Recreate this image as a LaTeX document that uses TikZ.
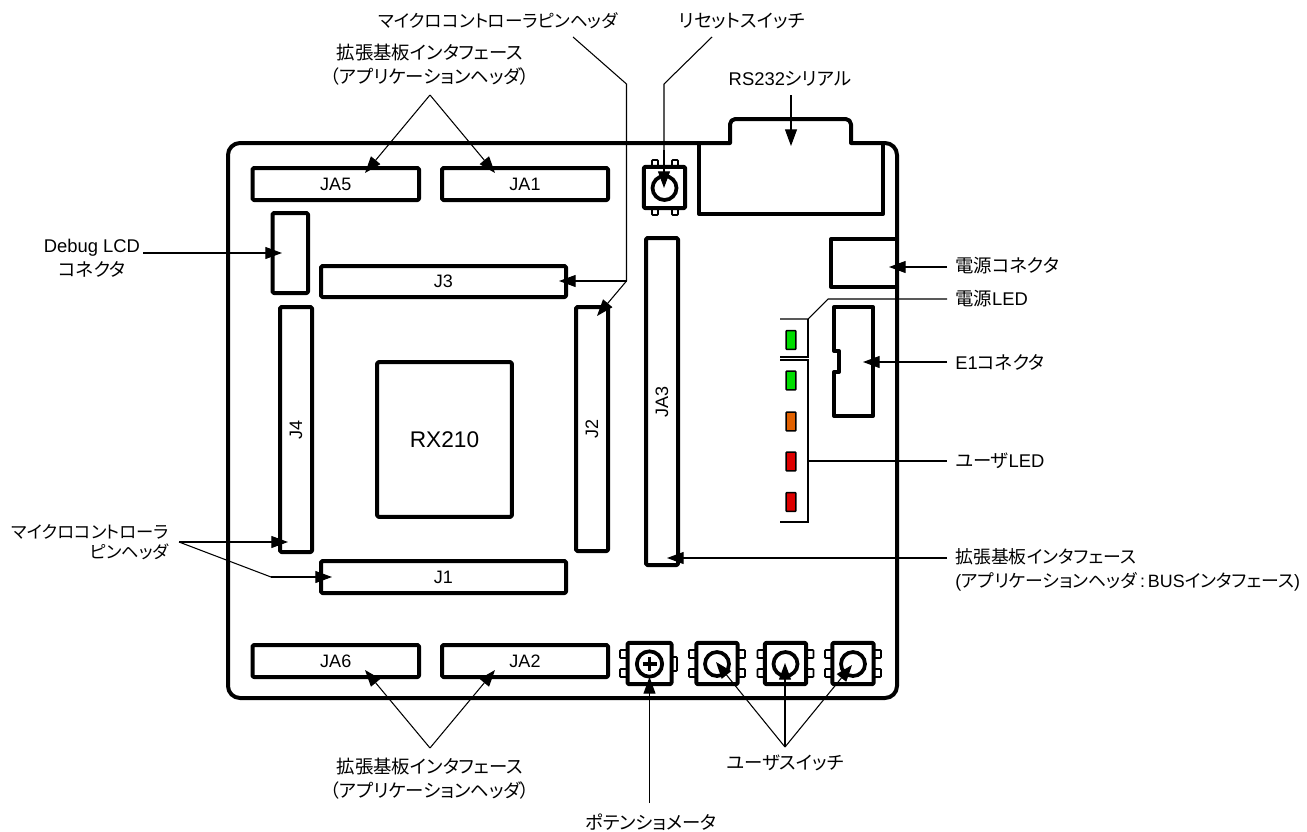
\documentclass[tikz,border=0pt]{standalone}
\usepackage{fontspec}
\setmainfont{Liberation Sans}
\newfontfamily\cjk[RawFeature=+palt]{Noto Sans CJK JP}
\newcommand\jp[1]{{\cjk #1}}
\usetikzlibrary{arrows.meta}
\definecolor{ledgreen}{RGB}{0,221,0}
\definecolor{ledorange}{RGB}{224,96,0}
\definecolor{ledred}{RGB}{221,0,0}
\tikzset{
  thickline/.style={line width=3pt,line join=round,line cap=round},
  hdr/.style={draw,thickline,rounded corners=1pt,inner sep=0pt,font=\fontsize{13.5}{15}\selectfont},
  lbl/.style={inner sep=0pt,align=center,font=\fontsize{13.8}{18}\selectfont},
  lblw/.style={lbl,anchor=west,align=left},
  lead/.style={line width=0.8pt,line join=miter},
  arr/.style={lead,-{Triangle[length=12.5pt,width=9pt]}},
  tabbox/.style={draw,fill=white,line width=1.2pt,rounded corners=0.5pt},
  swbody/.style={draw,thickline,rounded corners=1pt,inner sep=0pt,fill=white,minimum width=31pt,minimum height=31pt},
  led/.style={draw,line width=1.2pt,rounded corners=0.5pt,inner sep=0pt,minimum width=7.4pt,minimum height=14pt},
}
% \hdrbox{name}{x1}{y1}{x2}{y2}{rotation}{text}
\newcommand\hdrbox[7]{%
  \pgfmathsetmacro\bw{(#4-#2)*0.75}%
  \pgfmathsetmacro\bh{(#5-#3)*0.75}%
  \ifnum#6=0\relax
    \node[hdr,minimum width=\bw pt,minimum height=\bh pt] (#1) at ({(#2+#4)/2},{(#3+#5)/2}) {#7};%
  \else
    \node[hdr,minimum width=\bh pt,minimum height=\bw pt,rotate=#6] (#1) at ({(#2+#4)/2},{(#3+#5)/2}) {#7};%
  \fi}
\newcommand\sidetabs[2]{%
  \foreach \ty in {-10,9}{%
    \draw[tabbox] (#1-28,#2+\ty-4) rectangle (#1-21,#2+\ty+4);
    \draw[tabbox] (#1+21,#2+\ty-4) rectangle (#1+28,#2+\ty+4);}}
\begin{document}
\begin{tikzpicture}[x=0.75pt,y=-0.75pt]
\useasboundingbox (0,0) rectangle (1307,832);
% board
\draw[thickline,rounded corners=9pt] (228,420) -- (228,143) [sharp corners] -- (730,143) [rounded corners=4pt] -- (730,119) -- (851,119) [sharp corners] -- (851,143) [rounded corners=9pt] -- (897,143) -- (897,698) -- (228,698) -- cycle;
% RS232 connector, power connector, E1 connector
\draw[thickline] (699,143) -- (699,214) -- (883,214) -- (883,143);
\draw[thickline] (897,239) -- (831,239) -- (831,287) -- (897,287);
\draw[thickline] (834,307) -- (873,307) -- (873,416) -- (834,416) -- (834,372) -- (839,372) -- (839,351) -- (834,351) -- cycle;
% headers
\hdrbox{ja5}{252.5}{168}{419}{200}{0}{JA5}
\hdrbox{ja1}{442}{168}{608}{200}{0}{JA1}
\hdrbox{lcd}{272.5}{213}{308}{293}{0}{}
\hdrbox{j3}{321}{266}{566}{297}{0}{J3}
\hdrbox{j4}{280}{307}{312}{552}{90}{J4}
\hdrbox{j2}{576}{307}{608}{551}{90}{J2}
\hdrbox{j1}{321}{561}{566}{593}{0}{J1}
\hdrbox{ja3}{646}{238}{678}{565}{90}{JA3}
\hdrbox{ja6}{252.5}{645}{419}{677}{0}{JA6}
\hdrbox{ja2}{442}{645}{608}{677}{0}{JA2}
\node[hdr,minimum width=101pt,minimum height=116pt,font=\fontsize{17}{20}\selectfont] (mcu) at (444.5,439.5) {RX210};
% reset switch
\foreach \tx in {655,675}{
  \draw[tabbox] (\tx-3,160) rectangle (\tx+3,167);
  \draw[tabbox] (\tx-3,208) rectangle (\tx+3,215);}
\node[swbody] (rst) at (664.5,187.5) {};
\draw[line width=2.8pt] (664.5,188) circle (9pt);
% potentiometer
\foreach \ty in {654,673}{\draw[tabbox] (620,\ty-4) rectangle (627,\ty+4);}
\draw[tabbox] (672,657) rectangle (677,671);
\node[swbody,minimum width=33pt] (pot) at (649.5,663.5) {};
\draw[line width=2.8pt] (649.5,664) circle (9.5pt);
\draw[line width=2.4pt] (649.5,657) -- (649.5,671) (642.5,664) -- (656.5,664);
% user switches
\sidetabs{717}{664}
\sidetabs{785.5}{664}
\sidetabs{853}{664}
\node[swbody] (sw1) at (717,663.5) {};
\node[swbody] (sw2) at (785.5,663.5) {};
\node[swbody] (sw3) at (853,663.5) {};
\foreach \cx in {717,785.5,853}{\draw[line width=2.8pt] (\cx,664) circle (9pt);}
% LEDs
\node[led,fill=ledgreen] (led0) at (791,340) {};
\node[led,fill=ledgreen] (led1) at (791,380.5) {};
\node[led,fill=ledorange] (led2) at (791,421.5) {};
\node[led,fill=ledred] (led3) at (791,461.5) {};
\node[led,fill=ledred] (led4) at (791,502) {};
% labels
\node[lbl] (ltopa) at (430,65) {\jp{拡張基板インタフェース}\\\jp{（アプリケーションヘッダ）}};
\node[lbl,anchor=east,font=\fontsize{13.2}{18}\selectfont] (lpinb) at (618,21) {\jp{マイクロコントローラピンヘッダ}};
\node[lbl,anchor=west] (lrst) at (679,21) {\jp{リセットスイッチ}};
\node[lbl] (lrs) at (790,79) {RS232\jp{シリアル}};
\node[lbl] (llcd) at (92,258) {Debug LCD\\\jp{コネクタ}};
\node[lbl,align=right,anchor=east,font=\fontsize{13}{18}\selectfont] (lpina) at (169,542) {\jp{マイクロコントローラ}\\[-3pt]\jp{ピンヘッダ}};
\node[lblw] (lpwr) at (955,266) {\jp{電源コネクタ}};
\node[lblw] (lpled) at (955,299) {\jp{電源}LED};
\node[lblw] (le1) at (955,362) {E1\jp{コネクタ}};
\node[lblw] (luled) at (955,461) {\jp{ユーザ}LED};
\node[lblw,font=\fontsize{13.4}{18}\selectfont] (lbus) at (955,570) {\jp{拡張基板インタフェース}\\(\jp{アプリケーションヘッダ}\,:\,BUS\jp{インタフェース})};
\node[lbl] (lbot) at (430,778.5) {\jp{拡張基板インタフェース}\\\jp{（アプリケーションヘッダ）}};
\node[lbl] (luser) at (785,763) {\jp{ユーザスイッチ}};
\node[lbl] (lpot) at (651,822) {\jp{ポテンショメータ}};
% connector points
\coordinate (otop) at (430,95);
\coordinate (tja5) at (365,173);
\coordinate (tja1) at (495,173);
\coordinate (obot) at (430,748);
\coordinate (tja6) at (365,670);
\coordinate (tja2) at (495,670);
\coordinate (p1) at (573,37);
\coordinate (p2) at (626.5,84);
\coordinate (p3) at (626.5,281);
\coordinate (tj3) at (559,281);
\coordinate (tj2) at (597,316);
\coordinate (r1) at (712,37);
\coordinate (r2) at (664,84);
\coordinate (r3) at (664,150);
\coordinate (trst) at (664,188);
\coordinate (ors) at (791,95);
\coordinate (trs) at (791,146);
\coordinate (olcd) at (143,253);
\coordinate (tlcd) at (282,253);
\coordinate (opin) at (179,542);
\coordinate (tj4) at (288,542);
\coordinate (pk) at (271,577);
\coordinate (tj1) at (332,577);
\coordinate (opwr) at (947,267);
\coordinate (tpwr) at (889,267);
\coordinate (oe1) at (947,362);
\coordinate (te1) at (863,362);
\coordinate (obus) at (947,558);
\coordinate (tbus) at (667,558);
\coordinate (osw) at (785,747);
\coordinate (tsw1) at (716,662);
\coordinate (tsw2) at (785,663);
\coordinate (tsw3) at (852,665);
\coordinate (opot) at (649.5,803);
\coordinate (tpot) at (649.5,677);
% connectors
\draw[arr] (otop) -- (tja5);
\draw[arr] (otop) -- (tja1);
\draw[arr] (obot) -- (tja6);
\draw[arr] (obot) -- (tja2);
\draw[lead] (p1) -- (p2) -- (p3);
\draw[arr] (p3) -- (tj3);
\draw[arr] (p3) -- (tj2);
\draw[lead] (r1) -- (r2) -- (r3);
\draw[arr] (r3) -- (trst);
\draw[arr] (ors) -- (trs);
\draw[arr] (olcd) -- (tlcd);
\draw[arr] (opin) -- (tj4);
\draw[lead] (opin) -- (pk);
\draw[arr] (pk) -- (tj1);
\draw[arr] (opwr) -- (tpwr);
\draw[arr] (oe1) -- (te1);
\draw[arr] (obus) -- (tbus);
\draw[arr] (osw) -- (tsw1);
\draw[arr] (osw) -- (tsw2);
\draw[arr] (osw) -- (tsw3);
\draw[arr] (opot) -- (tpot);
% LED brackets
\draw[lead] (780,319) -- (808,319) -- (828,299) -- (947,299);
\draw[lead] (808,319) -- (808,357) -- (780,357);
\draw[lead] (780,360) -- (808,360) -- (808,522) -- (780,522);
\draw[lead] (808,461) -- (947,461);
\end{tikzpicture}
\end{document}
